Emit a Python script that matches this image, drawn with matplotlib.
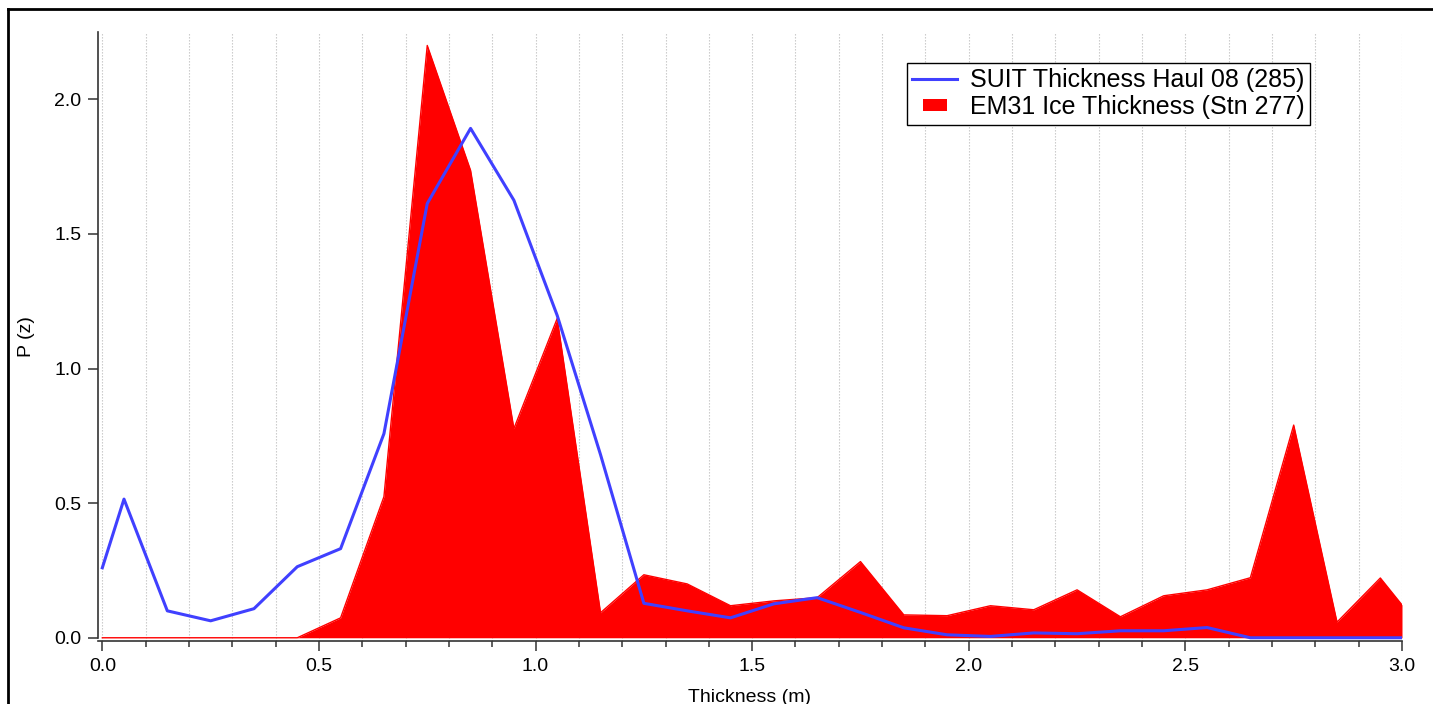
import matplotlib
matplotlib.use("Agg")
import matplotlib.pyplot as plt
from matplotlib.lines import Line2D
from matplotlib.ticker import MultipleLocator

plt.rcParams['font.family'] = ['Liberation Sans', 'DejaVu Sans']

# Thickness bins (m)
thickness = [0.0, 0.05, 0.15, 0.25, 0.35, 0.45, 0.55, 0.65, 0.75, 0.85, 0.95,
             1.05, 1.15, 1.25, 1.35, 1.45, 1.55, 1.65, 1.75, 1.85, 1.95,
             2.05, 2.15, 2.25, 2.35, 2.45, 2.55, 2.65, 2.75, 2.85, 2.95, 3.0]

# SUIT Thickness Haul 08 (285)
suit_pz = [0.26, 0.515, 0.10, 0.063, 0.108, 0.264, 0.331, 0.758, 1.613, 1.892, 1.625,
           1.197, 0.68, 0.128, 0.10, 0.074, 0.126, 0.149, 0.094, 0.037, 0.011,
           0.005, 0.018, 0.015, 0.026, 0.026, 0.038, 0.0, 0.0, 0.0, 0.0, 0.0]

# EM31 Ice Thickness (Stn 277)
em31_pz = [0.0, 0.0, 0.0, 0.0, 0.0, 0.0, 0.074, 0.524, 2.20, 1.736, 0.777,
           1.186, 0.093, 0.234, 0.20, 0.119, 0.137, 0.149, 0.283, 0.085, 0.082,
           0.119, 0.104, 0.178, 0.078, 0.156, 0.178, 0.223, 0.79, 0.058, 0.222, 0.122]

fig = plt.figure(figsize=(14.33, 7.04), dpi=100)
ax = fig.add_axes([98 / 1433, 63 / 704, (1402 - 98) / 1433, (641 - 32) / 704])

# red filled distribution
ax.fill_between(thickness, em31_pz, 0, color='#FF0000', lw=0, zorder=2)
ax.plot(thickness, em31_pz, color='#FF0000', lw=1, zorder=2)
# blue line
ax.plot(thickness, suit_pz, color='#4040FF', lw=2.2, zorder=3)

ax.set_xlim(-0.01, 3.0)
ax.set_ylim(-0.012, 2.25)
ax.spines['left'].set_bounds(0, 2.25)

ax.xaxis.set_major_locator(MultipleLocator(0.5))
ax.xaxis.set_minor_locator(MultipleLocator(0.1))
ax.yaxis.set_major_locator(MultipleLocator(0.5))
ax.xaxis.set_major_formatter(plt.FormatStrFormatter('%.1f'))
ax.yaxis.set_major_formatter(plt.FormatStrFormatter('%.1f'))

ax.set_axisbelow(True)
ax.grid(axis='x', which='both', ls=(0, (1.2, 1.5)), color='#C4C4C4', lw=0.8)

for s in ['top', 'right']:
    ax.spines[s].set_visible(False)
for s in ['left', 'bottom']:
    ax.spines[s].set_color('#333333')
    ax.spines[s].set_linewidth(1.2)

ax.tick_params(axis='both', which='major', direction='out', length=7, width=1.1,
               color='#333333', labelsize=14, pad=5)
ax.tick_params(axis='x', which='minor', direction='out', length=4.5, width=1.1,
               color='#333333')

ax.set_xlabel('Thickness (m)', fontsize=14, labelpad=10)
ax.set_ylabel('P (z)', fontsize=14, labelpad=14)

# small rectangle marker for the filled series in the legend
rect = [(-1, -0.5), (1, -0.5), (1, 0.5), (-1, 0.5), (-1, -0.5)]
handles = [Line2D([0], [0], color='#4040FF', lw=2.2),
           Line2D([0], [0], ls='none', marker=rect, markersize=17,
                  markerfacecolor='#FF0000', markeredgewidth=0)]
leg = ax.legend(handles, ['SUIT Thickness Haul 08 (285)', 'EM31 Ice Thickness (Stn 277)'],
                loc='upper right', bbox_to_anchor=(1310 / 1433, 1 - 63 / 704),
                bbox_transform=fig.transFigure, fontsize=18, frameon=True,
                fancybox=False, edgecolor='black', framealpha=1,
                borderpad=0.22, labelspacing=0.1, handlelength=1.8,
                handletextpad=0.5, borderaxespad=0)
leg.get_frame().set_linewidth(1.0)

# outer frame lines (top and left)
fig.add_artist(Line2D([8 / 1433, 1.0], [1 - 9 / 704, 1 - 9 / 704],
                      transform=fig.transFigure, color='black', lw=2))
fig.add_artist(Line2D([8 / 1433, 8 / 1433], [0, 1 - 9 / 704],
                      transform=fig.transFigure, color='black', lw=2))

fig.savefig('out.png', dpi=100)
